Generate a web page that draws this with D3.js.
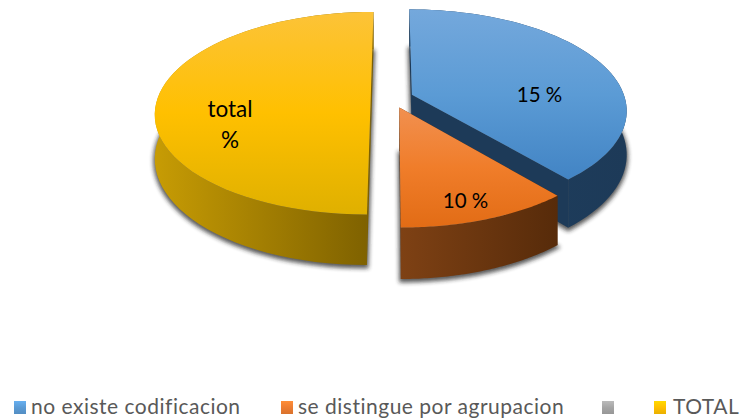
<!DOCTYPE html>
<html>
<head>
<meta charset="utf-8">
<script src="https://d3js.org/d3.v7.min.js"></script>
<style>
  html, body { margin: 0; padding: 0; background: #fff; }
  svg { display: block; }
  text { font-family: Lato, "Open Sans", sans-serif; }
</style>
</head>
<body>
<div id="content"></div>
<script>
// legend names and slice shares
var categories = ["no existe codificacion", "se distingue por agrupacion", "", "TOTAL"];
var shares = [38.9, 11.1, 0, 50];
// the labels printed on the slices do not follow the drawn shares
var sliceLabels = [["15 %"], ["10 %"], [], ["total", "%"]];

var topColors = [
  ["#74a8dc", "#5b9bd5", "#4284c4"],
  ["#f19050", "#f07d2a", "#e26c15"],
  ["#a8a8a8", "#a5a5a5", "#999999"],
  ["#fcc338", "#ffc000", "#dfb000"]
];
var wallColors = [
  ["#1f4060", "#1d3a58"],
  ["#7e4114", "#572b0a"],
  ["#666666", "#555555"],
  ["#c79c04", "#7d6000"]
];
var swatchColors = ["#5b9bd5", "#ed7d31", "#a5a5a5", "#ffc000"];

var width = 741, height = 419;

var svg = d3.select("#content").append("svg")
  .attr("width", width)
  .attr("height", height);

var defs = svg.append("defs");

defs.append("filter").attr("id", "blur")
  .attr("x", "-20%").attr("y", "-20%").attr("width", "140%").attr("height", "140%")
  .append("feGaussianBlur").attr("stdDeviation", 2.2);

function addGradient(id, colors, horizontal) {
  var g = defs.append("linearGradient").attr("id", id)
    .attr("x1", 0).attr("y1", 0)
    .attr("x2", horizontal ? 1 : 0).attr("y2", horizontal ? 0 : 1);
  colors.forEach(function(c, i) {
    g.append("stop").attr("offset", i / (colors.length - 1)).attr("stop-color", c);
  });
}

categories.forEach(function(c, i) {
  addGradient("top" + i, topColors[i], false);
  addGradient("wall" + i, wallColors[i], true);
  addGradient("swatch" + i, [d3.rgb(swatchColors[i]).brighter(0.35), swatchColors[i], d3.rgb(swatchColors[i]).darker(0.25)], false);
});

// pie plane to screen, with perspective: v is +1 at the front, -1 at the back
var cx = 392, cy = 98, radiusX = 213, radiusY = 99, persp = 0.15, depth = 43, explode = 0.1;

function project(u, v, z) {
  var p = 1 - persp * v;
  return [cx + radiusX * u / p, cy + (radiusY * v + depth * z) / p];
}

var pie = d3.pie().sort(null).value(function(d) { return d; });
var arcs = pie(shares);
var line = d3.line();

arcs.forEach(function(a, i) {
  if (a.value <= 0) return;

  var mid = (a.startAngle + a.endAngle) / 2;
  var ou = Math.sin(mid) * explode, ov = -Math.cos(mid) * explode;

  var rim = d3.range(0, 61).map(function(k) {
    var t = a.startAngle + (a.endAngle - a.startAngle) * k / 60;
    return [ou + Math.sin(t), ov - Math.cos(t)];
  });
  var apex = [ou, ov];

  function at(list, z) {
    return list.map(function(p) { return project(p[0], p[1], z); });
  }
  function wall(list) {
    return at(list, 0).concat(at(list, 1).reverse());
  }

  var slice = svg.append("g").attr("class", "slice");
  var outline = [apex].concat(rim);

  // soft shadow from the underside of the slice only, so the top rim stays clean
  slice.append("path")
    .attr("d", line(at(outline, 1)) + "Z")
    .attr("transform", "translate(0,2)")
    .attr("filter", "url(#blur)")
    .attr("fill", "#222")
    .attr("stroke", "#222")
    .attr("stroke-width", 3)
    .attr("opacity", 0.75);

  // cut faces, then the rim wall, then the top
  [[apex, rim[0]], [apex, rim[60]]].forEach(function(edge) {
    slice.append("path")
      .attr("d", line(wall(edge)) + "Z")
      .attr("fill", wallColors[i][1]);
  });
  slice.append("path")
    .attr("d", line(wall(rim)) + "Z")
    .attr("fill", "url(#wall" + i + ")");
  slice.append("path")
    .attr("d", line(at(outline, 0)) + "Z")
    .attr("fill", "url(#top" + i + ")");
});

// slice labels
var labelPos = [[539.5, 102], [465.5, 208], [0, 0], [230, 117]];
var labelSize = [20.5, 20.5, 20, 22.5];
arcs.forEach(function(a, i) {
  sliceLabels[i].forEach(function(t, k) {
    svg.append("text")
      .attr("x", labelPos[i][0])
      .attr("y", labelPos[i][1] + k * 31)
      .attr("text-anchor", "middle")
      .attr("font-size", labelSize[i])
      .attr("fill", "#000")
      .text(t);
  });
});

// legend
var legendX = [14, 281, 602, 654];
var legendGap = [17, 17, 17, 19];
var legend = svg.append("g").selectAll("g")
  .data(categories)
  .enter().append("g")
  .attr("transform", function(d, i) { return "translate(" + legendX[i] + ",401)"; });

legend.append("rect")
  .attr("width", 12)
  .attr("height", 13)
  .attr("fill", function(d, i) { return "url(#swatch" + i + ")"; });

legend.append("text")
  .attr("x", function(d, i) { return legendGap[i]; })
  .attr("y", 13)
  .attr("font-size", 21)
  .attr("letter-spacing", 0.5)
  .attr("fill", "#595959")
  .text(function(d) { return d; });
</script>
</body>
</html>
